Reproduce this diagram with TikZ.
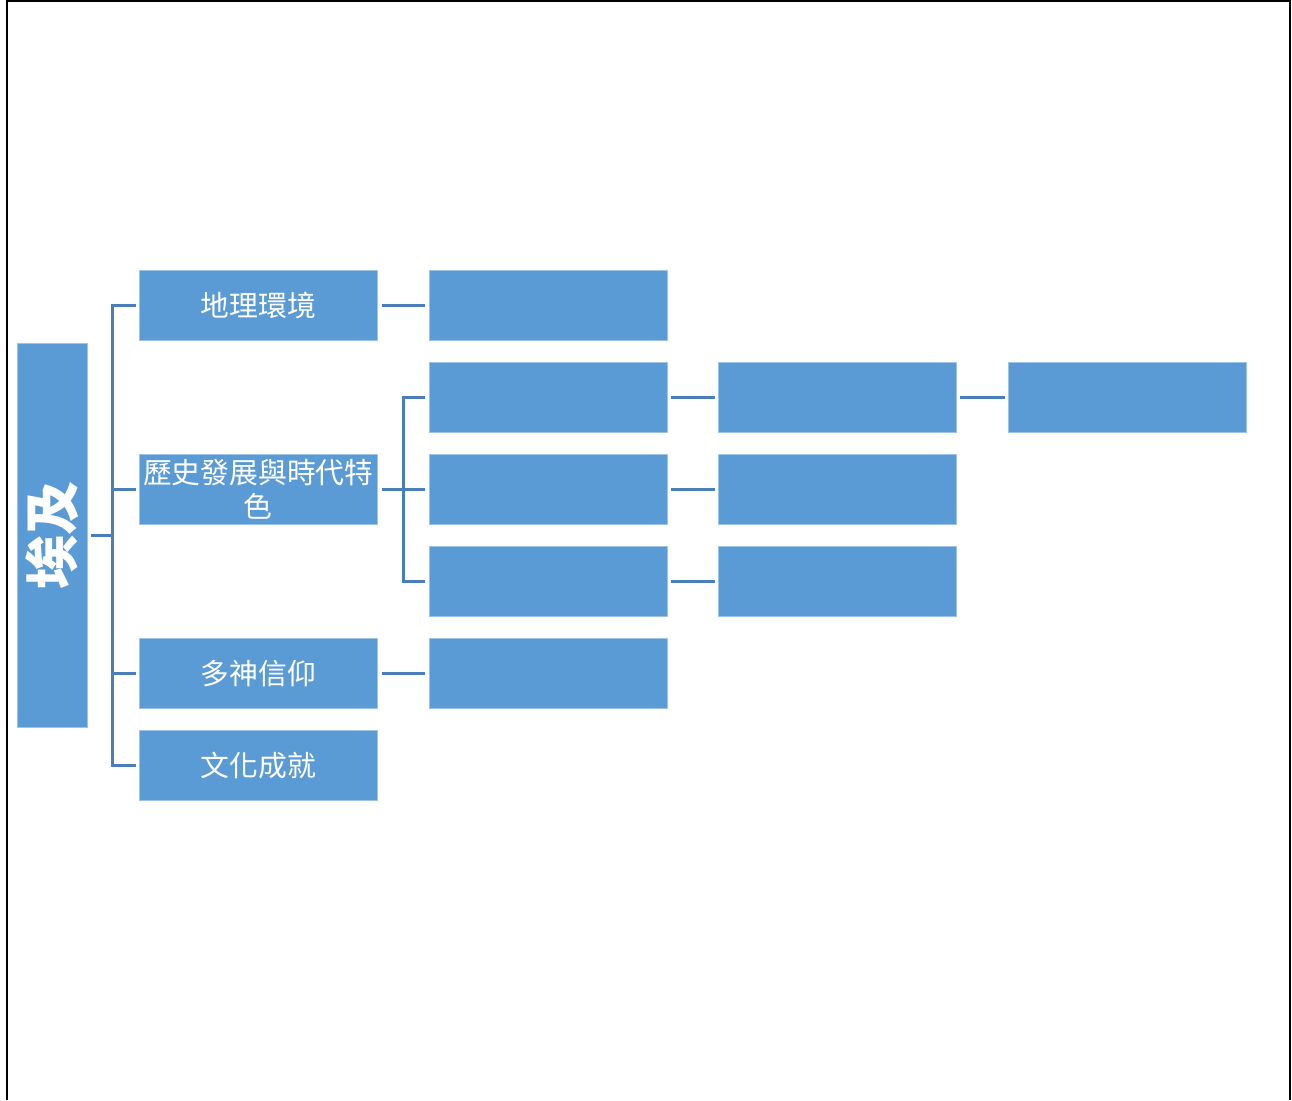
\documentclass[tikz,border=0pt]{standalone}
\usepackage{fontspec}
\newfontfamily\cjk{Noto Sans CJK TC}
\definecolor{boxblue}{HTML}{5B9BD5}
\definecolor{linkblue}{HTML}{4A7EBB}
\definecolor{edgeblue}{HTML}{9DC3E6}
\begin{document}
\begin{tikzpicture}[x=0.02cm,y=-0.02cm,
  box/.style={draw=edgeblue, line width=0.4pt, fill=boxblue, anchor=north west,
    minimum width=4.76cm, minimum height=1.4cm, inner sep=0pt, text=white,
    font=\cjk\fontsize{16.4pt}{19.3pt}\selectfont, align=center},
  conn/.style={draw=linkblue, line width=1.6pt},
  frame/.style={draw=black, line width=1.4pt}]
\useasboundingbox (0,0) rectangle (1292,1100);
\draw[frame] (7,1100) -- (7,1) -- (1290,1) -- (1290,1100);
% root
\node[box, minimum width=1.4cm, minimum height=7.68cm] (root) at (17,343) {};
\node[rotate=90, text=white, font=\cjk\bfseries\fontsize{31pt}{34pt}\selectfont] (rootlabel) at (root.center) {埃及};
% level 1
\node[box] (a1) at (139,270) {地理環境};
\node[box] (a2) at (139,454) {歷史發展與時代特\\色};
\node[box] (a3) at (139,638) {多神信仰};
\node[box] (a4) at (139,730) {文化成就};
% level 2
\node[box] (b1) at (429,270) {};
\node[box] (b2) at (429,362) {};
\node[box] (b3) at (429,454) {};
\node[box] (b4) at (429,546) {};
\node[box] (b5) at (429,638) {};
% level 3
\node[box] (c2) at (718,362) {};
\node[box] (c3) at (718,454) {};
\node[box] (c4) at (718,546) {};
% level 4
\node[box] (d2) at (1008,362) {};
% connectors root -> level 1
\draw[conn] ([xshift=0.06cm]root.east) -- ++(22,0) coordinate (bus);
\foreach \n in {a1,a2,a3,a4} \draw[conn] (bus) |- ([xshift=-0.06cm]\n.west);
% level 1 -> level 2
\draw[conn] ([xshift=0.08cm]a1.east) -- ([xshift=-0.08cm]b1.west);
\draw[conn] ([xshift=0.08cm]a3.east) -- ([xshift=-0.08cm]b5.west);
\draw[conn] ([xshift=0.08cm]a2.east) -- ++(22,0) coordinate (bus2);
\foreach \n in {b2,b3,b4} \draw[conn] (bus2) |- ([xshift=-0.08cm]\n.west);
% level 2 -> level 3
\draw[conn] ([xshift=0.06cm]b2.east) -- ([xshift=-0.06cm]c2.west);
\draw[conn] ([xshift=0.06cm]b3.east) -- ([xshift=-0.06cm]c3.west);
\draw[conn] ([xshift=0.06cm]b4.east) -- ([xshift=-0.06cm]c4.west);
% level 3 -> level 4
\draw[conn] ([xshift=0.06cm]c2.east) -- ([xshift=-0.06cm]d2.west);
\end{tikzpicture}
\end{document}
